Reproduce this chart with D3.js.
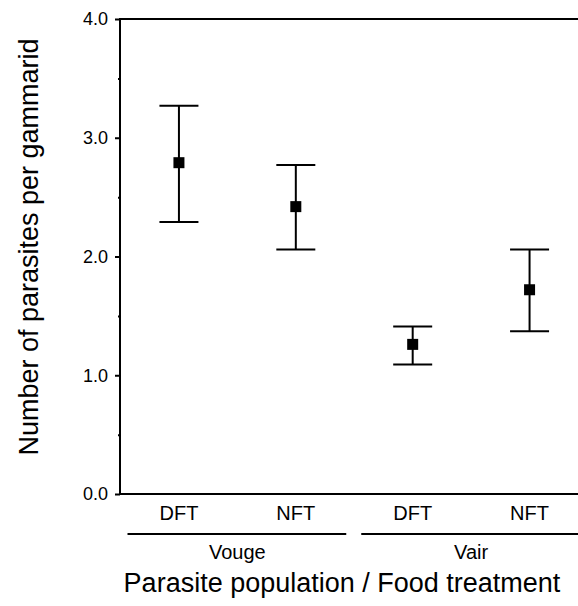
<!DOCTYPE html>
<html>
<head>
<meta charset="utf-8">
<script src="https://cdn.jsdelivr.net/npm/d3@7/dist/d3.min.js"></script>
<style>
  html, body { margin: 0; padding: 0; background: #fff; }
  svg { display: block; font-family: Arial, "Liberation Sans", sans-serif; }
</style>
</head>
<body>
<svg id="chart" width="578" height="606"></svg>
<script>
// Mean number of parasites per gammarid with error limits
const populations = ["Vouge", "Vouge", "Vair", "Vair"];
const treatments = ["DFT", "NFT", "DFT", "NFT"];
const means = [2.79, 2.42, 1.26, 1.72];
const upperLimits = [3.27, 2.77, 1.41, 2.06];
const lowerLimits = [2.29, 2.06, 1.09, 1.37];
const yTicks = [0, 1, 2, 3, 4];
const yMinorTicks = [0.5, 1.5, 2.5, 3.5];
const groupNames = ["Vouge", "Vair"];

const data = means.map((m, i) => ({
  key: populations[i] + "-" + treatments[i],
  population: populations[i],
  treatment: treatments[i],
  mean: m, hi: upperLimits[i], lo: lowerLimits[i]
}));

const svg = d3.select("#chart");
const plotLeft = 120, plotRight = 578, plotTop = 19, plotBottom = 494;

const x = d3.scaleBand().domain(data.map(d => d.key)).range([plotLeft + 0.5, 588]);
const y = d3.scaleLinear().domain([0, 4]).range([plotBottom, plotTop]);
const cx = d => x(d.key) + x.bandwidth() / 2;

// Frame lines (top and bottom)
svg.append("line").attr("x1", plotLeft).attr("x2", plotRight).attr("y1", y(4)).attr("y2", y(4))
  .attr("stroke", "#000").attr("stroke-width", 2);
svg.append("line").attr("x1", plotLeft).attr("x2", plotRight).attr("y1", y(0)).attr("y2", y(0))
  .attr("stroke", "#000").attr("stroke-width", 2);

// Y axis with major and minor ticks
const yAxis = svg.append("g").attr("transform", `translate(${plotLeft},0)`)
  .call(d3.axisLeft(y).tickValues(yTicks).tickFormat(d3.format(".1f")).tickSize(5).tickPadding(7));
yAxis.select(".domain").attr("stroke-width", 2).attr("d", `M0,${y(0) + 1}V${y(4) - 1}`);
yAxis.selectAll(".tick line").attr("stroke-width", 2);
yAxis.selectAll(".tick text").attr("font-size", 18).attr("fill", "#000")
  .attr("font-family", "Arial, 'Liberation Sans', sans-serif");

const yMinor = svg.append("g").attr("transform", `translate(${plotLeft},0)`)
  .call(d3.axisLeft(y).tickValues(yMinorTicks).tickFormat("").tickSize(2));
yMinor.select(".domain").remove();
yMinor.selectAll(".tick line").attr("stroke-width", 2);

// Category labels
svg.append("g").selectAll("text").data(data).join("text")
  .attr("x", cx).attr("y", 520)
  .attr("text-anchor", "middle").attr("font-size", 20).attr("fill", "#000")
  .text(d => d.treatment);

// Population grouping lines and labels
const groupExtent = groupNames.map(g => {
  const items = data.filter(d => d.population === g);
  return { name: g, x0: x(items[0].key), x1: x(items[items.length - 1].key) + x.bandwidth(),
           c: d3.mean(items, cx) };
});
svg.append("g").selectAll("line").data(groupExtent).join("line")
  .attr("x1", g => g.x0 + 7).attr("x2", g => Math.min(g.x1 - 8, plotRight))
  .attr("y1", 534).attr("y2", 534)
  .attr("stroke", "#000").attr("stroke-width", 2);
svg.append("g").selectAll("text").data(groupExtent).join("text")
  .attr("x", g => g.c).attr("y", 559)
  .attr("text-anchor", "middle").attr("font-size", 20).attr("fill", "#000")
  .text(g => g.name);

// Error bars
const bars = svg.append("g").selectAll("g").data(data).join("g");
bars.append("line")
  .attr("x1", cx).attr("x2", cx).attr("y1", d => y(d.hi)).attr("y2", d => y(d.lo))
  .attr("stroke", "#000").attr("stroke-width", 2);
bars.append("line")
  .attr("x1", d => cx(d) - 19.5).attr("x2", d => cx(d) + 19.5)
  .attr("y1", d => y(d.hi)).attr("y2", d => y(d.hi))
  .attr("stroke", "#000").attr("stroke-width", 2);
bars.append("line")
  .attr("x1", d => cx(d) - 19.5).attr("x2", d => cx(d) + 19.5)
  .attr("y1", d => y(d.lo)).attr("y2", d => y(d.lo))
  .attr("stroke", "#000").attr("stroke-width", 2);
bars.append("rect")
  .attr("x", d => cx(d) - 5.5).attr("y", d => y(d.mean) - 5.5)
  .attr("width", 11).attr("height", 11).attr("fill", "#000");

// Axis titles
svg.append("text").attr("x", 342).attr("y", 592)
  .attr("text-anchor", "middle").attr("font-size", 27).attr("fill", "#000")
  .text("Parasite population / Food treatment");
svg.append("text").attr("transform", "translate(38,247) rotate(-90)")
  .attr("text-anchor", "middle").attr("font-size", 27).attr("fill", "#000")
  .text("Number of parasites per gammarid");
</script>
</body>
</html>
